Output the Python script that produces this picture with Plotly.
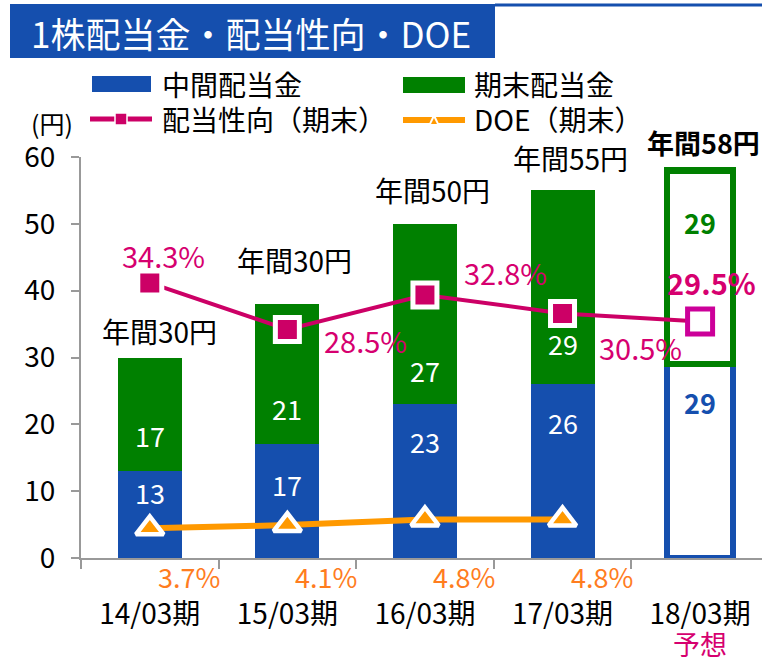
import plotly.graph_objects as go

# ---------------- data ----------------
categories = ['14/03期', '15/03期', '16/03期', '17/03期', '18/03期']
interim = [13, 17, 23, 26, 29]          # 中間配当金
final = [17, 21, 27, 29, 29]            # 期末配当金
payout = [34.3, 28.5, 32.8, 30.5, 29.5]  # 配当性向（期末） %
doe = [3.7, 4.1, 4.8, 4.8]              # DOE（期末） %
annual_labels = ['年間30円', '年間30円', '年間50円', '年間55円', '年間58円']
forecast_label = '予想'

# ---------------- style ----------------
BLUE = '#154fae'
GREEN = '#008000'
MAG_LINE = '#cc0066'
MAG_TXT = '#d6006f'
OPEN_SQ = '#cc0099'
ORANGE = '#ff9900'
ORANGE_TXT = '#ff7d1f'
FONT = 'Noto Sans CJK JP'

W, H = 762, 661
ML, MR, MT, MB = 81, 0, 157, 103
PW, PH = W - ML - MR, H - MT - MB


def px(x):
    return (x - ML) / PW


def py(y):
    return (H - MB - y) / PH


n = len(categories)
fc = n - 1  # forecast index
widths = [0.465] * (n - 1) + [0.48]

fig = go.Figure()

fig.add_trace(go.Bar(
    x=categories, y=interim, name='中間配当金', width=widths,
    marker=dict(color=[BLUE] * fc + ['white'],
                line=dict(color=[BLUE] * n, width=[0] * fc + [6.5])),
    hoverinfo='skip'))
fig.add_trace(go.Bar(
    x=categories, y=final, name='期末配当金', width=widths,
    marker=dict(color=[GREEN] * fc + ['white'],
                line=dict(color=[GREEN] * n, width=[0] * fc + [6.5])),
    hoverinfo='skip'))

fig.add_trace(go.Scatter(
    x=categories, y=payout, yaxis='y2', mode='lines+markers', name='配当性向（期末）',
    line=dict(color=MAG_LINE, width=4),
    marker=dict(symbol='square', size=[24] * fc + [25], opacity=1,
                color=[MAG_LINE] * fc + ['white'],
                line=dict(color=['white'] * fc + [OPEN_SQ], width=5)),
    cliponaxis=False, hoverinfo='skip'))

fig.add_trace(go.Scatter(
    x=categories[:len(doe)], y=doe, yaxis='y2', mode='lines+markers', name='DOE（期末）',
    line=dict(color=ORANGE, width=6),
    marker=dict(symbol='triangle-up', size=24, color=ORANGE, opacity=1,
                line=dict(color='white', width=4.5)),
    cliponaxis=False, hoverinfo='skip'))

ann = []
shapes = []


def A(**kw):
    kw.setdefault('showarrow', False)
    kw.setdefault('xanchor', 'center')
    kw.setdefault('yanchor', 'middle')
    ann.append(kw)


# bar value labels (pixel offsets relative to the interim/final boundary)
blue_off = [21, 40, 37, 38, 38]
green_off = [-36, -36, -34, -41, -142]
for i, c in enumerate(categories):
    bold = i == fc
    A(x=c, y=interim[i], yref='y', text=f'<b>{interim[i]}</b>' if bold else str(interim[i]),
      yshift=-blue_off[i], font=dict(size=27, color=BLUE if bold else 'white', family=FONT))
    A(x=c, y=interim[i], yref='y', text=f'<b>{final[i]}</b>' if bold else str(final[i]),
      yshift=-green_off[i], font=dict(size=27, color=GREEN if bold else 'white', family=FONT))

# annual totals
tot_dx = [10, 7, 8, 8, 3]
tot_dy = [27, 44, 34, 32, 28]
for i, c in enumerate(categories):
    total = interim[i] + final[i]
    txt = f'<b>{annual_labels[i]}</b>' if i == fc else annual_labels[i]
    A(x=c, y=total, yref='y', text=txt, xshift=tot_dx[i], yshift=tot_dy[i],
      font=dict(size=27 if i == fc else 28, color='black', family=FONT))

# payout labels
pay_dx = [14, 78, 81, 78, 11]
pay_dy = [28, -11, 23, -34, 39]
for i, c in enumerate(categories):
    txt = f'<b>{payout[i]}%</b>' if i == fc else f'{payout[i]}%'
    A(x=c, y=payout[i], yref='y2', text=txt, xshift=pay_dx[i], yshift=pay_dy[i],
      font=dict(size=29, color=MAG_TXT, family=FONT))

# DOE labels
for i, v in enumerate(doe):
    A(x=categories[i], y=py(576), yref='paper', text=f'{v}%', xshift=39,
      font=dict(size=27, color=ORANGE_TXT, family=FONT))

# forecast label
A(x=categories[fc], y=py(643), yref='paper', text=forecast_label,
  font=dict(size=27, color=MAG_TXT, family=FONT))

# unit label
A(x=px(52), y=py(123), xref='paper', yref='paper', text='(円)',
  font=dict(size=25, color='black', family=FONT))

# title banner
shapes.append(dict(type='rect', xref='paper', yref='paper', x0=px(10), x1=px(495), y0=py(58), y1=py(4),
                   fillcolor=BLUE, line=dict(width=0)))
shapes.append(dict(type='line', xref='paper', yref='paper', x0=px(495), x1=px(762), y0=py(5), y1=py(5),
                   line=dict(color=BLUE, width=3)))
A(x=px(29), y=py(32), xref='paper', yref='paper', xanchor='left', text='1株配当金・配当性向・DOE',
  font=dict(size=35, color='white', family=FONT))

# legend (manual)
shapes.append(dict(type='rect', xref='paper', yref='paper', x0=px(92), x1=px(151), y0=py(92), y1=py(76),
                   fillcolor=BLUE, line=dict(width=0)))
shapes.append(dict(type='rect', xref='paper', yref='paper', x0=px(403), x1=px(465), y0=py(93), y1=py(77),
                   fillcolor=GREEN, line=dict(width=0)))
shapes.append(dict(type='line', xref='paper', yref='paper', x0=px(90), x1=px(152), y0=py(119), y1=py(119),
                   line=dict(color=MAG_LINE, width=5)))
shapes.append(dict(type='rect', xref='paper', yref='paper', x0=px(115), x1=px(127), y0=py(125), y1=py(113),
                   fillcolor=MAG_LINE, line=dict(color='white', width=1.5)))
shapes.append(dict(type='line', xref='paper', yref='paper', x0=px(403), x1=px(465), y0=py(120), y1=py(120),
                   line=dict(color=ORANGE, width=6)))
shapes.append(dict(type='path', xref='paper', yref='paper',
                   path=f'M {px(428)},{py(126)} L {px(434)},{py(113)} L {px(440)},{py(126)} Z',
                   fillcolor='white', line=dict(width=0)))
shapes.append(dict(type='path', xref='paper', yref='paper',
                   path=f'M {px(431)},{py(124)} L {px(434)},{py(118)} L {px(437)},{py(124)} Z',
                   fillcolor=ORANGE, line=dict(width=0)))
leg = [(160, 84, '中間配当金'), (472, 84, '期末配当金'), (160, 119, '配当性向（期末）'), (472, 119, 'DOE（期末）')]
for x, y, t in leg:
    A(x=px(x), y=py(y), xref='paper', yref='paper', xanchor='left', text=t,
      font=dict(size=28, color='black', family=FONT))

fig.update_layout(
    width=W, height=H, margin=dict(l=ML, r=MR, t=MT, b=MB, autoexpand=False),
    paper_bgcolor='white', plot_bgcolor='white',
    barmode='stack', showlegend=False,
    font=dict(family=FONT, color='black'),
    xaxis=dict(type='category', range=[-0.5, 4.45], showline=True, linecolor='#999999', linewidth=2,
               ticks='outside', tickson='boundaries', ticklen=9, tickcolor='#999999', tickwidth=2,
               tickfont=dict(size=28, color='black'), ticklabelstandoff=30, showgrid=False,
               automargin=False),
    yaxis=dict(range=[0, 60], dtick=10, showline=True, linecolor='#999999', linewidth=2,
               ticks='outside', ticklen=8, tickcolor='#999999', tickwidth=2,
               tickfont=dict(size=28, color='black'), showgrid=False, zeroline=False,
               ticklabelstandoff=10, automargin=False),
    yaxis2=dict(range=[0, 50], overlaying='y', visible=False),
    annotations=ann, shapes=shapes,
)

fig.write_html('out.html', config={'displayModeBar': False},
               post_script="document.body.style.margin='0';document.body.style.overflow='hidden';")
